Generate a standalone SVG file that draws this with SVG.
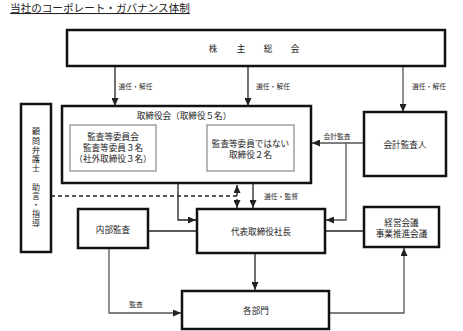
<svg xmlns="http://www.w3.org/2000/svg" width="463" height="331" viewBox="0 0 463 331">
<style>
text{font-family:"Noto Sans CJK JP","Noto Sans",sans-serif;fill:#222;dominant-baseline:central;text-anchor:middle}
.box{fill:#fff;stroke:#111;stroke-width:2.5}
.inner{fill:#fff;stroke:#888;stroke-width:1.2}
.t{font-size:8.6px}
.lbl{font-size:6.8px;fill:#333}
.c{fill:none;stroke:#555;stroke-width:1.3}
.ck{fill:none;stroke:#222;stroke-width:1.3}
.d{fill:none;stroke:#222;stroke-width:1.3;stroke-dasharray:4 3}
.v{font-size:8px;writing-mode:vertical-rl;letter-spacing:1.2px}
</style>
<defs>
<marker id="ah" viewBox="0 0 8 7" refX="8" refY="3.5" markerWidth="8" markerHeight="7" markerUnits="userSpaceOnUse" orient="auto-start-reverse"><path d="M0,0 L8,3.5 L0,7 z" fill="#222"/></marker>
</defs>
<text x="10" y="7.5" style="font-size:10.6px;text-anchor:start;text-decoration:underline">当社のコーポレート・ガバナンス体制</text>

<g id="connectors">
<path class="ck" d="M115 66 V106" marker-end="url(#ah)"/>
<path class="ck" d="M248 66 V106" marker-end="url(#ah)"/>
<path class="c" d="M403 66 V112" marker-end="url(#ah)"/>
<path class="ck" d="M156 153 H206" marker-end="url(#ah)"/>
<path class="ck" d="M178 153 V220 H196" marker-end="url(#ah)"/>
<path class="c" d="M364 143 H312" marker-end="url(#ah)"/>
<path class="c" d="M346 143 V220 H326" marker-end="url(#ah)"/>
<path class="d" d="M51 196 H237"/>
<path class="d" d="M237 185 V208" marker-start="url(#ah)" marker-end="url(#ah)"/>
<path class="ck" d="M253 184 V208" marker-end="url(#ah)"/>
<path class="ck" d="M148 231 H197"/>
<path class="c" d="M109 248 V313 H181" marker-end="url(#ah)"/>
<path class="ck" d="M255 253 V290" marker-end="url(#ah)"/>
<path class="ck" d="M325 231 H364"/>
<path class="c" d="M329 313 H404 V248" marker-end="url(#ah)"/>
<text class="lbl" x="135.5" y="86">選任・解任</text>
<text class="lbl" x="273" y="86">選任・解任</text>
<text class="lbl" x="429" y="86">選任・解任</text>
<text class="lbl" x="176" y="143">監査</text>
<text class="lbl" x="337" y="136">会計監査</text>
<text class="lbl" x="281" y="196">選任・監督</text>
<text class="lbl" x="136" y="304">監査</text>
</g>

<g id="shareholders">
<rect class="box" x="67" y="30" width="378" height="36"/>
<text class="t" x="213" y="48">株</text>
<text class="t" x="241" y="48">主</text>
<text class="t" x="268" y="48">総</text>
<text class="t" x="295" y="48">会</text>
</g>

<g id="board">
<rect class="box" x="62" y="106" width="249" height="77"/>
<text class="t" x="184" y="115">取締役会（取締役５名）</text>
</g>

<g id="audit-committee">
<rect class="inner" x="70" y="125" width="86" height="46"/>
<text class="t" x="113" y="136">監査等委員会</text>
<text class="t" x="113" y="147">監査等委員３名</text>
<text class="t" x="113" y="158">（社外取締役３名）</text>
</g>

<g id="other-directors">
<rect class="inner" x="207" y="125" width="87" height="46"/>
<text class="t" x="250.5" y="142.5">監査等委員ではない</text>
<text class="t" x="250.5" y="153.5">取締役２名</text>
</g>

<g id="accounting-auditor">
<rect class="box" x="364" y="112" width="82" height="64"/>
<text class="t" x="405" y="144">会計監査人</text>
</g>

<g id="legal-advisor">
<rect class="box" x="21" y="104" width="30" height="148"/>
<text class="v" x="36" y="178">顧問弁護士　助言・指導</text>
</g>

<g id="internal-audit">
<rect class="box" x="78" y="209" width="70" height="39"/>
<text class="t" x="113" y="228.5">内部監査</text>
</g>

<g id="president">
<rect class="box" x="197" y="209" width="128" height="44"/>
<text class="t" x="261" y="231">代表取締役社長</text>
</g>

<g id="management-meeting">
<rect class="box" x="364" y="207" width="75" height="40"/>
<text class="t" x="401.5" y="222">経営会議</text>
<text class="t" x="401.5" y="233">事業推進会議</text>
</g>

<g id="departments">
<rect class="box" x="182" y="291" width="147" height="38"/>
<text class="t" x="256" y="310">各部門</text>
</g>
</svg>
